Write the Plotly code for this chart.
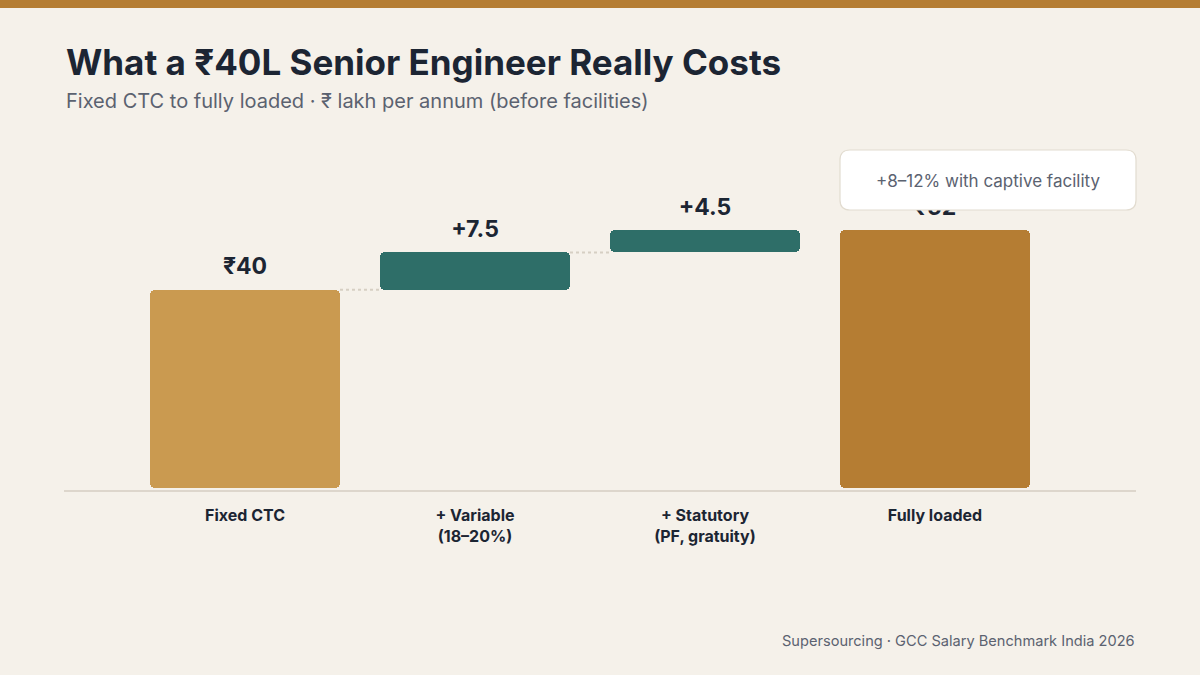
import plotly.graph_objects as go

categories = ["Fixed CTC", "+ Variable<br>(18–20%)", "+ Statutory<br>(PF, gratuity)", "Fully loaded"]
values = [40, 7.5, 4.5, 52]
measures = ["absolute", "relative", "relative", "total"]
value_labels = ["₹40", "+7.5", "+4.5", "₹52"]
bar_colors = ["#CA9A50", "#2E6E68", "#2E6E68", "#B57D33"]
note_text = "+8–12% with captive facility"
title_text = "What a ₹40L Senior Engineer Really Costs"
subtitle_text = "Fixed CTC to fully loaded · ₹ lakh per annum (before facilities)"
source_text = "Supersourcing · GCC Salary Benchmark India 2026"

# compute bases from measures
bases, heights, running = [], [], 0.0
for v, m in zip(values, measures):
    if m == "absolute":
        bases.append(0); heights.append(v); running = v
    elif m == "relative":
        bases.append(running); heights.append(v); running += v
    else:
        bases.append(0); heights.append(v); running = v
tops = [b + h for b, h in zip(bases, heights)]

xpos = list(range(len(categories)))
BG = "#F5F1EA"
DARK = "#1C2533"
GREY = "#5B6270"
FONT = "Inter"
BAR_W = 0.826

fig = go.Figure()
fig.add_trace(go.Bar(
    x=xpos, y=heights, base=bases, width=BAR_W,
    marker=dict(color=bar_colors, line=dict(width=0)),
    cliponaxis=False, hoverinfo="skip",
))

# connectors between the first three bars
half = BAR_W / 2
for i in range(2):
    fig.add_trace(go.Scatter(
        x=[xpos[i] + half, xpos[i + 1] - half], y=[tops[i], tops[i]],
        mode="lines", line=dict(color="#D6CFC3", width=2, dash="dot"),
        hoverinfo="skip", showlegend=False,
    ))

# value labels above bars
fig.add_trace(go.Scatter(
    x=xpos, y=tops, mode="markers+text", text=value_labels, textposition="top center",
    marker=dict(size=14, opacity=0),
    textfont=dict(family=FONT, size=23, color=DARK, weight=700),
    cliponaxis=False, hoverinfo="skip", showlegend=False,
))

W, H = 1200, 675
ml, mr, mt, mb = 64, 64, 130, 185
pw, ph = W - ml - mr, H - mt - mb

def px_to_paper(x, y):
    return (x - ml) / pw, (H - mb - y) / ph

# top stripe
sx0, sy0 = px_to_paper(0, 0)
sx1, sy1 = px_to_paper(W, 8)
fig.add_shape(type="rect", xref="paper", yref="paper", x0=sx0, x1=sx1, y0=sy1, y1=sy0,
              fillcolor="#B57D33", line=dict(width=0), layer="above")

# rounded note box
bx0, by0, bx1, by1, r = 840, 150, 1136, 210, 10
def P(x, y):
    a, b = px_to_paper(x, y)
    return f"{a:.5f},{b:.5f}"
path = (f"M {P(bx0 + r, by0)} L {P(bx1 - r, by0)} Q {P(bx1, by0)} {P(bx1, by0 + r)} "
        f"L {P(bx1, by1 - r)} Q {P(bx1, by1)} {P(bx1 - r, by1)} "
        f"L {P(bx0 + r, by1)} Q {P(bx0, by1)} {P(bx0, by1 - r)} "
        f"L {P(bx0, by0 + r)} Q {P(bx0, by0)} {P(bx0 + r, by0)} Z")
fig.add_shape(type="path", xref="paper", yref="paper", path=path,
              fillcolor="#FFFFFF", line=dict(color="#E2DCD0", width=1.2), layer="above")
nx, ny = px_to_paper((bx0 + bx1) / 2, (by0 + by1) / 2 + 1)
fig.add_annotation(xref="paper", yref="paper", x=nx, y=ny, text=note_text, showarrow=False,
                   font=dict(family=FONT, size=17, color=GREY), xanchor="center", yanchor="middle")

# title, subtitle, source
tx, ty = px_to_paper(64, 62)
fig.add_annotation(xref="paper", yref="paper", x=tx, y=ty, text=f"<b>{title_text}</b>", showarrow=False,
                   font=dict(family=FONT, size=35, color=DARK), xanchor="left", yanchor="middle")
tx, ty = px_to_paper(64, 101)
fig.add_annotation(xref="paper", yref="paper", x=tx, y=ty, text=subtitle_text, showarrow=False,
                   font=dict(family=FONT, size=20, color=GREY), xanchor="left", yanchor="middle")
tx, ty = px_to_paper(1137, 641)
fig.add_annotation(xref="paper", yref="paper", x=tx, y=ty, text=source_text, showarrow=False,
                   font=dict(family=FONT, size=14.6, color=GREY), xanchor="right", yanchor="middle")

fig.update_layout(
    width=W, height=H, margin=dict(l=ml, r=mr, t=mt, b=mb),
    paper_bgcolor=BG, plot_bgcolor=BG, showlegend=False,
    barcornerradius=5, bargap=0,
    font=dict(family=FONT, color=DARK),
)
fig.update_xaxes(
    range=[-0.787, 3.874], tickvals=xpos, ticktext=[f"<b>{c}</b>" for c in categories],
    tickfont=dict(family=FONT, size=16, color=DARK), showgrid=False, zeroline=False,
    showline=True, linecolor="#DDD6CC", linewidth=2, ticks="", ticklabelstandoff=10,
    fixedrange=True,
)
fig.update_yaxes(range=[-0.4, 72.2], visible=False, showgrid=False, zeroline=False, fixedrange=True)

fig.write_html("out.html", config={"displayModeBar": False})
